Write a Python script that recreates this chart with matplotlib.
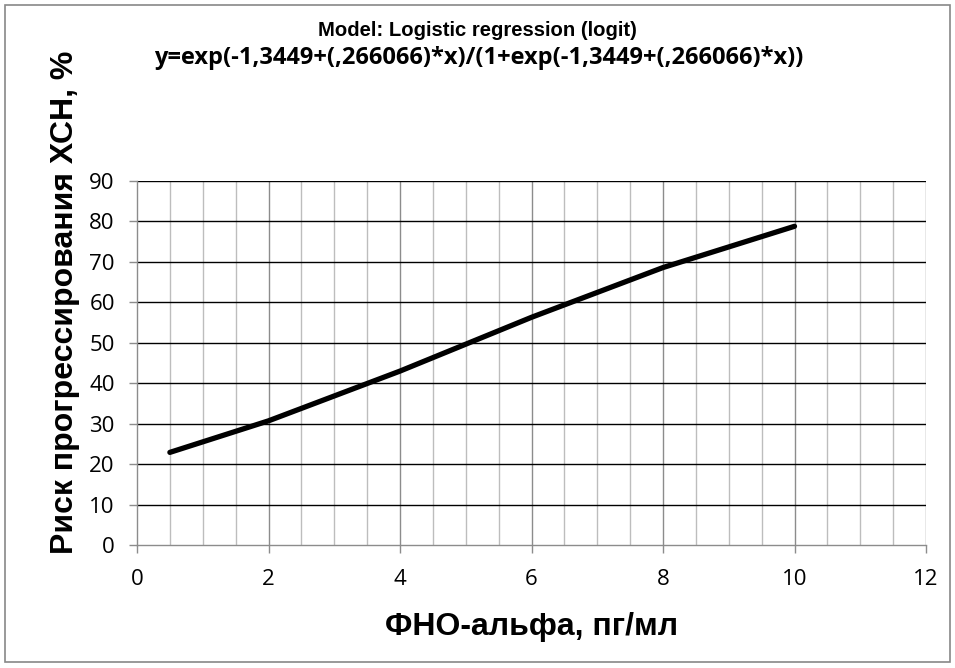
import matplotlib
matplotlib.use("Agg")
import matplotlib.pyplot as plt
from matplotlib.patches import Rectangle
import numpy as np

x_vals = [0.5, 2, 4, 6, 8, 10]
risk = [22.9, 30.7, 43.0, 56.3, 68.6, 78.8]
x_ticks = [0, 2, 4, 6, 8, 10, 12]
y_ticks = [0, 10, 20, 30, 40, 50, 60, 70, 80, 90]

title = "Model: Logistic regression (logit)"
subtitle = "y=exp(-1,3449+(,266066)*x)/(1+exp(-1,3449+(,266066)*x))"
xlabel = "ФНО-альфа, пг/мл"
ylabel = "Риск прогрессирования ХСН, %"

plt.rcParams['font.family'] = ['Liberation Sans', 'DejaVu Sans']

fig = plt.figure(figsize=(9.55, 6.68), dpi=100)
fig.patches.append(Rectangle((5/955, 1-662/668), 945/955, 657/668, transform=fig.transFigure,
                             fill=False, edgecolor='#888888', linewidth=1.2))

ax = fig.add_axes([137/955, 1-545/668, 789/955, 364/668])
ax.set_xlim(0, 12)
ax.set_ylim(0, 90)

# minor vertical grid
for xv in np.arange(0.5, 12.01, 0.5):
    if abs(xv % 2) > 1e-9:
        ax.axvline(xv, color='#bdbdbd', lw=1.0, zorder=1)
for xv in x_ticks[1:]:
    ax.axvline(xv, color='#8c8c8c', lw=1.0, zorder=1)
for yv in y_ticks[1:]:
    ax.axhline(yv, color='black', lw=1.0, zorder=1)

ax.plot(x_vals, risk, color='black', lw=3.8, solid_capstyle='round', solid_joinstyle='round', zorder=3)

ax.set_xticks(x_ticks)
ax.set_yticks(y_ticks)
ax.tick_params(axis='both', direction='out', length=6, width=1, color='#8c8c8c')
ax.tick_params(axis='x', pad=11)
ax.tick_params(axis='y', pad=10)
for lab in ax.get_xticklabels() + ax.get_yticklabels():
    lab.set_fontfamily(['Open Sans', 'DejaVu Sans'])
    lab.set_fontsize(16)
for s in ['top', 'right']:
    ax.spines[s].set_visible(False)
for s in ['left', 'bottom']:
    ax.spines[s].set_color('#8c8c8c')
    ax.spines[s].set_linewidth(1.0)

fig.text(477/955, 1-31/668, title, ha='center', va='center', fontsize=14.6, fontweight='bold')
fig.text(479/955, 1-58/668, subtitle, ha='center', va='center', fontsize=17, fontweight='bold',
         family=['Open Sans', 'DejaVu Sans'])
fig.text(532/955, 1-627/668, xlabel, ha='center', va='center', fontsize=23, fontweight='bold')
fig.text(65/955, 1-302/668, ylabel, ha='center', va='center', fontsize=23, fontweight='bold', rotation=90)

fig.savefig("out.png", dpi=100)
